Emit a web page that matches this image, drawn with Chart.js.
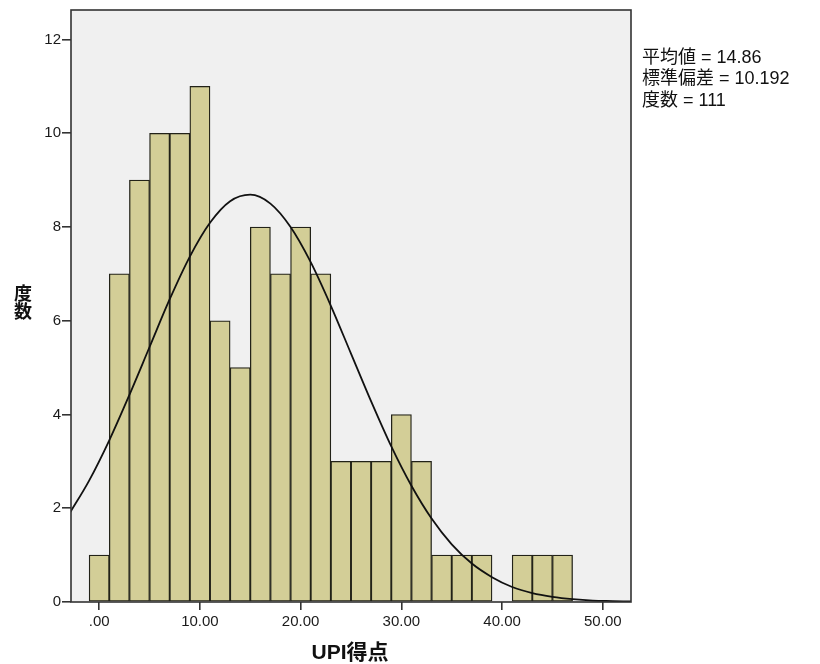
<!DOCTYPE html>
<html>
<head>
<meta charset="utf-8">
<script src="https://cdn.jsdelivr.net/npm/chart.js@4"></script>
<style>
  body { margin: 0; background: #fff; }
  #wrap { width: 820px; height: 664px; }
</style>
</head>
<body>
<div id="wrap"><canvas id="histChart" width="820" height="664"></canvas></div>
<script>
// Histogram bins (centres of 2-point wide bins) and their counts
const binCentres = [0, 2, 4, 6, 8, 10, 12, 14, 16, 18, 20, 22, 24, 26, 28, 30, 32, 34, 36, 38, 40, 42, 44, 46];
const binCounts  = [1, 7, 9, 10, 10, 11, 6, 5, 8, 7, 8, 7, 3, 3, 3, 4, 3, 1, 1, 1, 0, 1, 1, 1];

// Normal curve
const curveX = [-3, -1, 1, 3, 5, 7, 9, 11, 13, 15, 17, 19, 21, 23, 25, 27, 29, 31, 33, 35, 37, 39, 41, 43, 45, 47, 49, 51, 53];
const curveY = [1.87, 2.59, 3.45, 4.42, 5.44, 6.46, 7.37, 8.09, 8.55, 8.69, 8.50, 8.00, 7.25, 6.32, 5.30, 4.28, 3.32, 2.48, 1.78, 1.23, 0.82, 0.53, 0.32, 0.19, 0.11, 0.06, 0.03, 0.02, 0.01];

const xTicks = [0, 10, 20, 30, 40, 50];
const yTicks = [0, 2, 4, 6, 8, 10, 12];

const statLines = ['平均値 = 14.86', '標準偏差 = 10.192', '度数 = 111'];
const yTitle = ['度', '数'];
const xTitle = 'UPI得点';

const latin = '"Liberation Sans", Arial, sans-serif';
const cjk = '"Liberation Sans", "Noto Sans CJK JP", sans-serif';

// plot background, frame and the extra texts
const decor = {
    id: 'decor',
    beforeDatasetsDraw(chart) {
        const a = chart.chartArea, c = chart.ctx;
        c.save();
        c.fillStyle = '#f0f0f0';
        c.fillRect(a.left, a.top, a.right - a.left, a.bottom - a.top);
        c.restore();
    },
    afterDatasetsDraw(chart) {
        const a = chart.chartArea, c = chart.ctx;
        c.save();
        c.strokeStyle = '#333';
        c.lineWidth = 1.6;
        c.strokeRect(a.left, a.top, a.right - a.left, a.bottom - a.top);

        c.fillStyle = '#111';
        c.textBaseline = 'middle';
        c.font = '18px ' + cjk;
        c.textAlign = 'left';
        statLines.forEach((t, i) => c.fillText(t, 642, 58 + i * 21.5));

        c.font = 'bold 18px ' + cjk;
        c.textAlign = 'center';
        yTitle.forEach((t, i) => c.fillText(t, 23, 295 + i * 18.5));
        c.font = 'bold 21px ' + cjk;
        c.fillText(xTitle, 350, 653);
        c.restore();
    }
};

const ctx = document.getElementById('histChart').getContext('2d');
new Chart(ctx, {
    data: {
        datasets: [{
            type: 'line',
            data: curveX.map((x, i) => ({ x: x, y: curveY[i] })),
            borderColor: '#111',
            borderWidth: 1.8,
            pointRadius: 0,
            cubicInterpolationMode: 'monotone',
            fill: false,
            order: 0
        }, {
            type: 'bar',
            data: binCentres.map((x, i) => ({ x: x, y: binCounts[i] })),
            backgroundColor: '#d3ce97',
            borderColor: '#222218',
            borderWidth: 1.3,
            borderSkipped: false,
            barPercentage: 1,
            categoryPercentage: 1,
            order: 1
        }]
    },
    options: {
        responsive: false,
        animation: false,
        layout: { padding: { left: 0, right: 189, top: 10, bottom: 0 } },
        plugins: {
            legend: { display: false },
            tooltip: { enabled: false }
        },
        scales: {
            x: {
                type: 'linear',
                min: -2.8,
                max: 52.8,
                offset: false,
                afterBuildTicks: s => { s.ticks = xTicks.map(v => ({ value: v })); },
                afterFit: s => { s.height = 62; },
                grid: { offset: false, drawOnChartArea: false, drawTicks: true, tickLength: 8, color: '#333', lineWidth: 1.6 },
                border: { display: false },
                ticks: {
                    padding: 3,
                    maxRotation: 0,
                    color: '#1a1a1a',
                    font: { family: latin, size: 15 },
                    callback: v => v === 0 ? '.00' : v.toFixed(2)
                }
            },
            y: {
                min: 0,
                max: 12.63,
                afterBuildTicks: s => { s.ticks = yTicks.map(v => ({ value: v })); },
                afterFit: s => { s.width = 71; },
                grid: { drawOnChartArea: false, drawTicks: true, tickLength: 9, color: '#333', lineWidth: 1.6 },
                border: { display: false },
                ticks: {
                    padding: 1,
                    color: '#1a1a1a',
                    font: { family: latin, size: 15 }
                }
            }
        }
    },
    plugins: [decor]
});
</script>
</body>
</html>
